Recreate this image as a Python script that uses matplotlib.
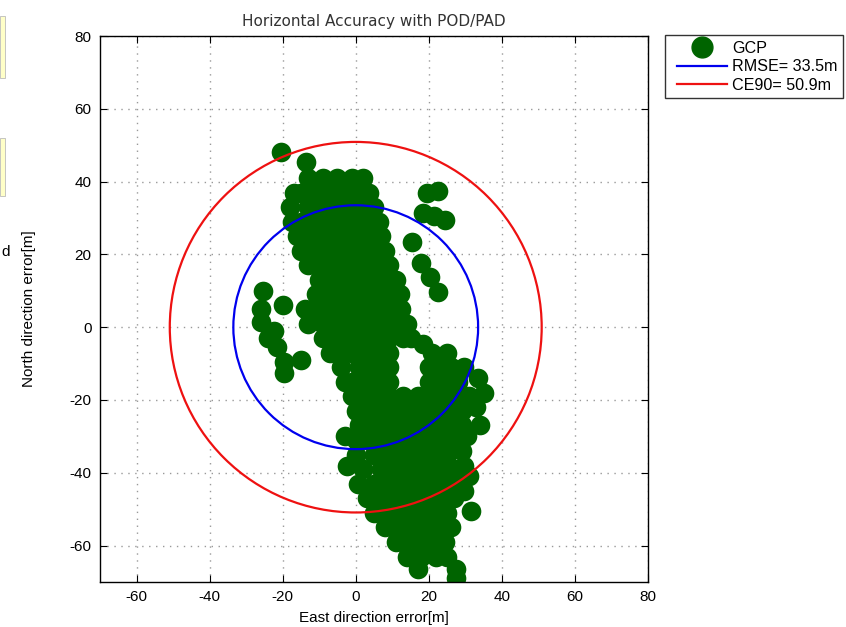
import numpy as np
import matplotlib.pyplot as plt
from matplotlib.lines import Line2D
from matplotlib.patches import Rectangle, Circle
from matplotlib.legend_handler import HandlerLine2D

# GCP horizontal errors [m] (east, north)
gcp_east = [
    -20.5, -13.5,
    -13, -9, -5, -1, 2,
    -17, -15, -11, -7, -3, 1, 3.5,
    -18, -13, -9, -5, -1, 3, 5,
    -17.5, -15, -11, -7, -3, 1, 5, 6.5,
    -16, -13, -9, -5, -1, 3, 7,
    -15, -11, -7, -3, 1, 5, 8,
    -13, -9, -5, -1, 3, 7, 9,
    -10, -7, -3, 1, 5, 9, 11,
    -11, -9, -5, -1, 3, 7, 11, 12,
    -14, -11, -7, -3, 1, 5, 9, 12.5,
    -13, -9, -5, -1, 3, 7, 11, 14,
    -9, -7, -3, 1, 5, 9, 13, 15,
    18.5,
    -7, -5, -1, 3, 7, 9, 21, 25,
    -4, 1, 5, 9, 20, 22, 26, 29.5,
    33.5,
    -3, -1, 3, 7, 9, 20, 24, 28,
    35,
    -1, 1, 5, 9, 13, 17, 21, 25, 29, 31,
    33,
    0, 3, 7, 11, 15, 19, 23, 27, 29,
    1, 5, 9, 13, 17, 21, 25, 29, 34,
    -3, 30.5,
    0, 3, 7, 11, 15, 19, 23, 27,
    29,
    0, 5, 9, 13, 17, 21, 25,
    -2.5, 29.5,
    2, 7, 11, 15, 19, 23, 27,
    31,
    0.5, 5, 9, 13, 17, 21, 25, 28,
    29.5,
    3, 7, 11, 15, 19, 23, 27,
    31.5,
    5, 9, 13, 17, 21, 25,
    8, 11, 15, 19, 23, 26,
    11, 13, 17, 21, 24.5,
    14, 18, 22, 25,
    17, 27.5,
    27.5,
    # eastern chain
    19.5, 22.5, 18.5, 21.5, 24.5, 15.3, 18, 20.3, 22.5,
    # western cluster
    -25.5, -20, -26, -26, -22.5, -24, -21.5, -19.5, -15, -19.5,
]
gcp_north = [
    48, 45.5,
    41, 41, 41, 41, 41,
    37, 37, 37, 37, 37, 37, 37,
    33, 33, 33, 33, 33, 33, 33,
    29, 29, 29, 29, 29, 29, 29, 29,
    25, 25, 25, 25, 25, 25, 25,
    21, 21, 21, 21, 21, 21, 21,
    17, 17, 17, 17, 17, 17, 17,
    13, 13, 13, 13, 13, 13, 13,
    9, 9, 9, 9, 9, 9, 9, 9,
    5, 5, 5, 5, 5, 5, 5, 5,
    1, 1, 1, 1, 1, 1, 1, 1,
    -3, -3, -3, -3, -3, -3, -3, -3,
    -4.5,
    -7, -7, -7, -7, -7, -7, -7, -7,
    -11, -11, -11, -11, -11, -11, -11, -11,
    -14,
    -15, -15, -15, -15, -15, -15, -15, -15,
    -18,
    -19, -19, -19, -19, -19, -19, -19, -19, -19, -19,
    -22,
    -23, -23, -23, -23, -23, -23, -23, -23, -23,
    -27, -27, -27, -27, -27, -27, -27, -27, -27,
    -30, -30,
    -31, -31, -31, -31, -31, -31, -31, -31,
    -34,
    -35, -35, -35, -35, -35, -35, -35,
    -38, -38,
    -39, -39, -39, -39, -39, -39, -39,
    -41,
    -43, -43, -43, -43, -43, -43, -43, -43,
    -45,
    -47, -47, -47, -47, -47, -47, -47,
    -50.5,
    -51, -51, -51, -51, -51, -51,
    -55, -55, -55, -55, -55, -55,
    -59, -59, -59, -59, -59,
    -63, -63, -63, -63,
    -66.5, -66.5,
    -69,
    37, 37.5, 31.5, 30.5, 29.5, 23.4, 17.6, 13.7, 9.6,
    10, 6, 5, 1.5, -1, -3, -5.5, -9.5, -9, -12.5,
]

rmse = 33.5
ce90 = 50.9

GREEN = '#006400'
BLUE = '#0000ee'
RED = '#ee1111'


class RightHandler(HandlerLine2D):
    """Legend line drawn in the right part of the handle box, like MATLAB."""

    def create_artists(self, legend, orig_handle, xdescent, ydescent,
                       width, height, fontsize, trans):
        arts = super().create_artists(legend, orig_handle, xdescent, ydescent,
                                      width, height, fontsize, trans)
        for a in arts:
            x = np.asarray(a.get_xdata(), dtype=float)
            x0, x1 = x.min(), x.max()
            a.set_xdata(x0 + 0.12 * (x1 - x0) + (x - x0) * 0.88)
        return arts


plt.rcParams['font.family'] = ['Liberation Sans', 'DejaVu Sans']
plt.rcParams['axes.unicode_minus'] = False

fig = plt.figure(figsize=(8.46, 6.27), dpi=100)
ax = fig.add_axes([100 / 846, 1 - 582 / 627, 548 / 846, 546 / 627])

ax.scatter(gcp_east, gcp_north, s=200, color=GREEN, linewidths=0, zorder=2)
ax.add_patch(Circle((0, 0), rmse, fill=False, color=BLUE, lw=1.6, zorder=3))
ax.add_patch(Circle((0, 0), ce90, fill=False, color=RED, lw=1.6, zorder=3))

ax.set_xlim(-70, 80)
ax.set_ylim(-70, 80)
ax.set_xticks(range(-60, 81, 20))
ax.set_yticks(range(-60, 81, 20))
ax.grid(True, linestyle=(0, (1, 4)), color='#999999', linewidth=1.0)
ax.set_axisbelow(True)
ax.tick_params(direction='in', top=True, right=True, labelsize=11, length=5,
               pad=6)
for sp in ax.spines.values():
    sp.set_linewidth(1.0)

ax.set_title('Horizontal Accuracy with POD/PAD', fontsize=11, color='#333333',
             family=['DejaVu Sans'], pad=7)
ax.set_xlabel('East direction error[m]', fontsize=11, labelpad=5)
ax.set_ylabel('North direction error[m]', fontsize=11, labelpad=24)

handles = [
    Line2D([], [], marker='o', ls='none', markersize=15, color=GREEN),
    Line2D([], [], color=BLUE, lw=1.6),
    Line2D([], [], color=RED, lw=1.6),
]
labels = ['GCP', f'RMSE= {rmse}m', f'CE90= {ce90}m']
leg = fig.legend(handles, labels, loc='upper left',
                 bbox_to_anchor=(665 / 846, 1 - 35 / 627), borderaxespad=0,
                 fontsize=11.6, fancybox=False, edgecolor='black',
                 handlelength=3.5, labelspacing=0.22, borderpad=0.35,
                 handletextpad=0.3,
                 handler_map={Line2D: RightHandler()})
leg.get_frame().set_linewidth(1.0)

# cut-off bits of a neighbouring figure at the left edge
fig.patches.append(Rectangle((0, 1 - 78 / 627), 5 / 846, 62 / 627,
                             transform=fig.transFigure, facecolor='#ffffc8',
                             edgecolor='#bbbbbb', lw=0.6))
fig.patches.append(Rectangle((0, 1 - 196 / 627), 5 / 846, 58 / 627,
                             transform=fig.transFigure, facecolor='#ffffc8',
                             edgecolor='#bbbbbb', lw=0.6))
fig.text(1 / 846, 1 - 252 / 627, 'd', fontsize=11, va='center', ha='left')

fig.savefig('out.png', dpi=100, facecolor='white')
